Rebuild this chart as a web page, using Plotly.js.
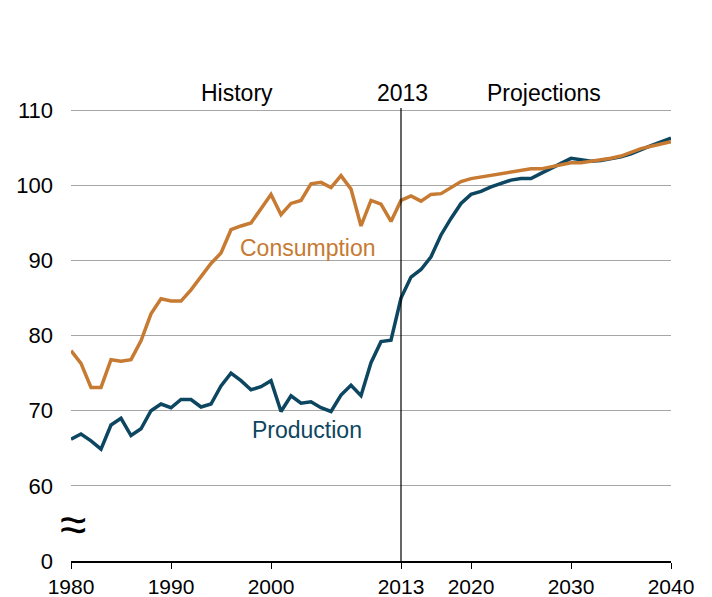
<!DOCTYPE html>
<html>
<head>
<meta charset="utf-8">
<script src="https://cdn.plot.ly/plotly-3.0.1.min.js"></script>
<style>html,body{margin:0;padding:0;background:#fff;}#chart{width:712px;height:597px;}</style>
</head>
<body>
<div id="chart"></div>
<script>
const years = [];
for (let y = 1980; y <= 2040; y++) years.push(y);

const production = [
  66.2, 66.9, 66.0, 64.9, 68.1, 69.0, 66.7, 67.6, 70.0, 70.9,
  70.4, 71.5, 71.5, 70.5, 70.9, 73.3, 75.0, 74.0, 72.8, 73.2,
  74.0, 69.9, 72.0, 71.0, 71.2, 70.4, 69.9, 72.1, 73.4, 72.0,
  76.4, 79.2, 79.4, 85.0, 87.8, 88.8, 90.5, 93.4, 95.6, 97.6,
  98.8, 99.2, 99.8, 100.2, 100.7, 100.9, 100.9, 101.6, 102.3, 103.0,
  103.6, 103.4, 103.2, 103.3, 103.5, 103.8, 104.2, 104.8, 105.3, 105.8,
  106.3
];

const consumption = [
  78.0, 76.3, 73.1, 73.1, 76.8, 76.6, 76.8, 79.3, 82.9, 84.9,
  84.6, 84.6, 86.1, 87.9, 89.6, 91.0, 94.1, 94.6, 95.0, 96.9,
  98.8, 96.1, 97.6, 98.0, 100.2, 100.4, 99.7, 101.3, 99.5, 94.6,
  98.0, 97.5, 95.2, 98.0, 98.6, 97.9, 98.8, 98.9, 99.7, 100.5,
  100.9, 101.1, 101.3, 101.6, 101.8, 102.0, 102.2, 102.2, 102.5, 102.8,
  103.0, 103.0, 103.2, 103.3, 103.6, 103.9, 104.4, 104.9, 105.2, 105.5,
  105.8
];

const xTickVals = [1980, 1990, 2000, 2013, 2020, 2030, 2040];
const xTickText = ['1980', '1990', '2000', '2013', '2020', '2030', '2040'];
const yTickVals = [50, 60, 70, 80, 90, 100, 110];
const yTickText = ['0', '60', '70', '80', '90', '100', '110'];

const cProd = '#0d4660';
const cCons = '#c67a32';

const traces = [
  {x: years, y: production, type: 'scatter', mode: 'lines', name: 'Production',
   line: {color: cProd, width: 3.5}, hoverinfo: 'skip'},
  {x: years, y: consumption, type: 'scatter', mode: 'lines', name: 'Consumption',
   line: {color: cCons, width: 3.5}, hoverinfo: 'skip'}
];

const font = 'Liberation Sans, Arial, sans-serif';

const layout = {
  width: 712, height: 597,
  margin: {l: 71, r: 41, t: 108, b: 36},
  paper_bgcolor: '#ffffff', plot_bgcolor: '#ffffff',
  showlegend: false,
  font: {family: font, size: 22, color: '#000'},
  xaxis: {
    range: [1980, 2040], tickvals: xTickVals, ticktext: xTickText,
    showgrid: false, zeroline: false, showline: true, linecolor: '#000', linewidth: 1.5,
    ticks: 'outside', ticklen: 6, tickcolor: '#000', tickwidth: 1,
    tickfont: {family: font, size: 21, color: '#000'}, fixedrange: true
  },
  yaxis: {
    range: [50, 110.3], tickvals: yTickVals, ticktext: yTickText,
    showgrid: true, gridcolor: '#a6a6a6', gridwidth: 1, zeroline: false, showline: false,
    ticks: '', ticklabelstandoff: 17,
    tickfont: {family: font, size: 22, color: '#000'}, fixedrange: true
  },
  shapes: [
    {type: 'line', xref: 'x', yref: 'paper', x0: 2013, x1: 2013, y0: 0, y1: 1,
     line: {color: '#000', width: 1.2}}
  ],
  annotations: [
    {x: 1996.55, y: 1, xref: 'x', yref: 'paper', yanchor: 'bottom', text: 'History',
     showarrow: false, font: {family: font, size: 23, color: '#000'}, yshift: 0},
    {x: 2013.15, y: 1, xref: 'x', yref: 'paper', yanchor: 'bottom', text: '2013',
     showarrow: false, font: {family: font, size: 23, color: '#000'}, yshift: 0},
    {x: 2027.25, y: 1, xref: 'x', yref: 'paper', yanchor: 'bottom', text: 'Projections',
     showarrow: false, font: {family: font, size: 23, color: '#000'}, yshift: 0},
    {x: 2003.65, y: 91.7, xref: 'x', yref: 'y', text: 'Consumption',
     showarrow: false, font: {family: font, size: 23, color: cCons}},
    {x: 2003.6, y: 67.4, xref: 'x', yref: 'y', text: 'Production',
     showarrow: false, font: {family: font, size: 23, color: cProd}},
    {x: 1980.15, y: 54.9, xref: 'x', yref: 'y', text: '≈',
     showarrow: false, font: {family: 'Liberation Sans, sans-serif', size: 48, color: '#000'}}
  ]
};

Plotly.newPlot('chart', traces, layout, {displayModeBar: false, staticPlot: true});
</script>
</body>
</html>
